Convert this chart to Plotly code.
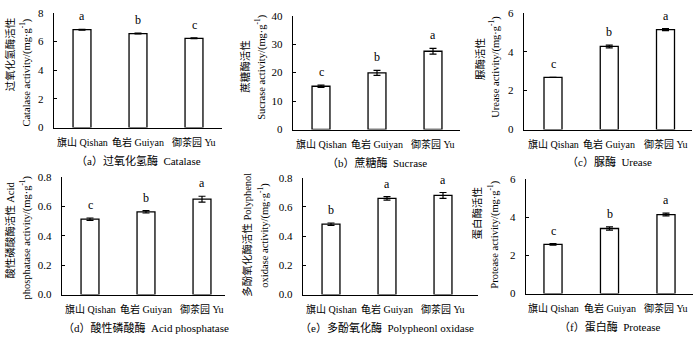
import plotly.graph_objects as go

W, H = 700, 343

sites = ["旗山 Qishan", "龟岩 Guiyan", "御茶园 Yu"]

catalase = [6.82, 6.55, 6.22]
catalase_err = [0.03, 0.03, 0.03]
catalase_sig = ["a", "b", "c"]

sucrase = [15.2, 19.9, 27.5]
sucrase_err = [0.4, 0.9, 1.0]
sucrase_sig = ["c", "b", "a"]

urease = [2.68, 4.27, 5.13]
urease_err = [0.0, 0.07, 0.05]
urease_sig = ["c", "b", "a"]

acid_p = [0.512, 0.562, 0.648]
acid_p_err = [0.008, 0.008, 0.02]
acid_p_sig = ["c", "b", "a"]

polyphenol = [0.482, 0.659, 0.679]
polyphenol_err = [0.008, 0.012, 0.02]
polyphenol_sig = ["b", "a", "a"]

protease = [2.57, 3.40, 4.13]
protease_err = [0.04, 0.08, 0.07]
protease_sig = ["c", "b", "a"]

y_ticks = {
    "a": [0, 2, 4, 6, 8],
    "b": [0, 10, 20, 30, 40],
    "c": [0, 2, 4, 6],
    "d": [0.0, 0.2, 0.4, 0.6, 0.8],
    "e": [0.0, 0.2, 0.4, 0.6, 0.8],
    "f": [0, 2, 4, 6],
}

captions = {
    "a": "（a）过氧化氢酶  Catalase",
    "b": "（b）蔗糖酶  Sucrase",
    "c": "（c）脲酶  Urease",
    "d": "（d）酸性磷酸酶  Acid phosphatase",
    "e": "（e）多酚氧化酶  Polypheonl oxidase",
    "f": "（f）蛋白酶  Protease",
}

# y titles: list of (text, x_px, y_px)
ytitles = {
    "a": [("过氧化氢酶活性", 10, 50), ("Catalase activity/(mg·g<sup>-1</sup>)", 25, 69)],
    "b": [("蔗糖酶活性", 245, 62), ("Sucrase activity/(mg·g<sup>-1</sup>)", 260, 64)],
    "c": [("脲酶活性", 480, 55), ("Urease activity/(mg·g<sup>-1</sup>)", 494, 63)],
    "d": [("酸性磷酸酶活性 Acid", 10, 233), ("phosphatase activity/(mg·g<sup>-1</sup>)", 25, 240)],
    "e": [("多酚氧化酶活性 Polyphenol", 247, 237), ("oxidase activity/(mg·g<sup>-1</sup>)", 263, 238)],
    "f": [("蛋白酶活性", 477, 214), ("Protease activity/(mg·g<sup>-1</sup>)", 493, 237)],
}

panels = [
    ("a", catalase, catalase_err, catalase_sig, dict(L=54, c0=82, c2=194, R=222, top=7, zero=126)),
    ("b", sucrase, sucrase_err, sucrase_sig, dict(L=293, c0=321, c2=433, R=460, top=10, zero=128)),
    ("c", urease, urease_err, urease_sig, dict(L=524, c0=553, c2=665.5, R=692, top=7, zero=128)),
    ("d", acid_p, acid_p_err, acid_p_sig, dict(L=62, c0=90, c2=202, R=225, top=177, zero=299)),
    ("e", polyphenol, polyphenol_err, polyphenol_sig, dict(L=303, c0=331, c2=443, R=478, top=178, zero=299)),
    ("f", protease, protease_err, protease_sig, dict(L=526, c0=553, c2=666, R=693, top=179, zero=298)),
]

FONT = "Liberation Serif, Noto Sans CJK SC, serif"

fig = go.Figure()
annotations = []
layout = {}

for i, (key, vals, errs, sig, g) in enumerate(panels):
    n = i + 1
    xa = "x" if n == 1 else f"x{n}"
    ya = "y" if n == 1 else f"y{n}"
    xname = "xaxis" if n == 1 else f"xaxis{n}"
    yname = "yaxis" if n == 1 else f"yaxis{n}"
    s = (g["c2"] - g["c0"]) / 2.0
    xr = [-(g["c0"] - g["L"]) / s, 2 + (g["R"] - g["c2"]) / s]
    ticks = y_ticks[key]
    fig.add_trace(go.Bar(
        x=[0, 1, 2], y=vals, xaxis=xa, yaxis=ya, width=0.32,
        marker=dict(color="white", line=dict(color="black", width=1.3)),
        error_y=dict(type="data", array=errs, visible=True, color="black",
                     thickness=1.2, width=3.5),
        showlegend=False, hoverinfo="skip",
    ))
    layout[xname] = dict(
        domain=[g["L"] / W, g["R"] / W], range=xr, anchor=ya,
        tickvals=[0, 1, 2], showticklabels=False, ticks="", showline=True,
        linecolor="black", linewidth=1.2, showgrid=False, zeroline=False,
        fixedrange=True,
    )
    layout[yname] = dict(
        domain=[1 - g["zero"] / H, 1 - g["top"] / H], range=[0, ticks[-1]],
        anchor=xa, tickvals=ticks,
        tickformat=".1f" if ticks[-1] < 1 else "d",
        ticks="inside", ticklen=3, tickwidth=1, tickcolor="black",
        showline=True, linecolor="black", linewidth=1.2, showgrid=False,
        zeroline=False, tickfont=dict(family=FONT, size=11, color="black"),
        ticklabelstandoff=7, fixedrange=True,
    )
    for j in range(3):
        annotations.append(dict(
            x=j, y=vals[j] + errs[j], xref=xa, yref=ya, text=sig[j],
            showarrow=False, yanchor="bottom", yshift=4,
            font=dict(family=FONT, size=12, color="#000000"),
        ))
        annotations.append(dict(
            x=j, y=1 - (g["zero"] + 15) / H, xref=xa, yref="paper",
            text=sites[j], showarrow=False, xanchor="center", yanchor="middle",
            font=dict(family=FONT, size=10, color="black"),
        ))
    annotations.append(dict(
        x=1, y=(1 - (g["zero"] + 34) / H), xref=xa, yref="paper",
        text=captions[key], showarrow=False, yanchor="middle", xanchor="center",
        font=dict(family=FONT, size=11, color="black"),
    ))
    for txt, px, py in ytitles[key]:
        annotations.append(dict(
            x=px / W, y=1 - py / H, xref="paper", yref="paper", text=txt,
            textangle=-90, showarrow=False, xanchor="center", yanchor="middle",
            font=dict(family=FONT, size=10.5, color="black"),
        ))

fig.update_layout(
    width=W, height=H, margin=dict(l=0, r=0, t=0, b=0),
    paper_bgcolor="white", plot_bgcolor="white",
    annotations=annotations, bargap=0, **layout,
)

fig.write_html(
    "out.html",
    config={"displayModeBar": False, "staticPlot": True},
    post_script="document.body.style.margin='0';document.body.style.overflow='hidden';",
)
